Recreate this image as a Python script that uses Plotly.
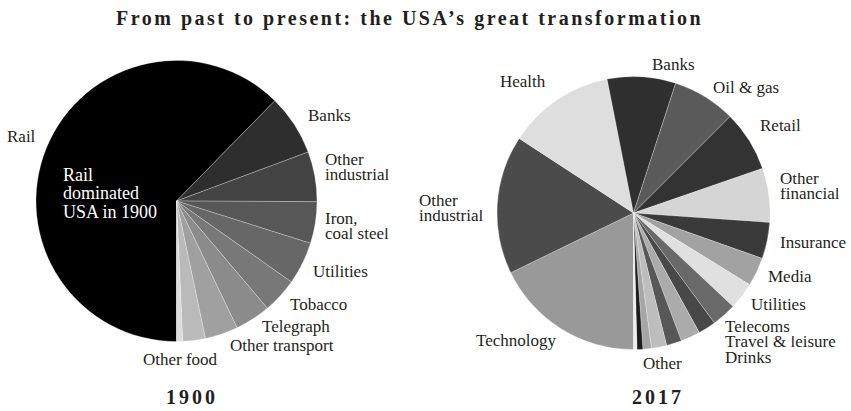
import plotly.graph_objects as go

W, H = 851, 411
TEXT = "#231f20"
SERIF = "Liberation Serif, Times New Roman, serif"

# ---- 1900: share of US stock-market value by sector (%), clockwise from 6 o'clock
sectors_1900 = ["Rail", "Banks", "Other industrial", "Iron, coal steel", "Utilities",
                "Tobacco", "Telegraph", "Other transport", "Other food", "Other"]
shares_1900 = [62.4, 7.0, 5.75, 4.8, 4.9, 4.05, 4.1, 3.8, 2.6, 0.7]
greys_1900 = ["#000000", "#2e2e2e", "#434343", "#575757", "#676767",
              "#787878", "#8b8b8b", "#a0a0a0", "#bababa", "#dcdcdc"]

# ---- 2017
sectors_2017 = ["Technology", "Other industrial", "Health", "Banks", "Oil & gas", "Retail",
                "Other financial", "Insurance", "Media", "Utilities", "Telecoms",
                "Travel & leisure", "Drinks", "Other 1", "Other 2", "Other 3",
                "Other 4", "Other 5"]
shares_2017 = [17.8, 16.4, 12.7, 8.1, 7.5, 7.2, 6.4, 4.3, 3.4, 3.2, 2.9,
               2.1, 2.3, 1.8, 1.8, 1.0, 0.7, 0.4]
greys_2017 = ["#999999", "#4b4b4b", "#dedede", "#2f2f2f", "#5a5a5a", "#333333",
              "#d5d5d5", "#3a3a3a", "#a2a2a2", "#e0e0e0", "#696969",
              "#484848", "#ababab", "#575757", "#bdbdbd", "#a6a6a6",
              "#1c1c1c", "#eeeeee"]

# label lines for each pie (one entry per drawn line of text)
labels_1900 = ["Rail", "Banks", "Other", "industrial", "Iron,", "coal steel", "Utilities",
               "Tobacco", "Telegraph", "Other transport", "Other food"]
labels_2017 = ["Health", "Banks", "Oil & gas", "Retail", "Other", "financial", "Insurance",
               "Media", "Utilities", "Telecoms", "Travel & leisure", "Drinks", "Other",
               "Technology", "Other", "industrial"]
note_1900 = ["Rail", "dominated", "USA in 1900"]
title = "From past to present: the USA\u2019s great transformation"
years = ["1900", "2017"]

# label placement: (left x, baseline y, line box height or None) in pixels
pos_1900 = [(7, 142.7, None), (308, 121, None), (325, 165.7, 15), (325, 180.7, 15),
            (325, 224.3, 15), (325, 239.3, 15), (313, 277.3, None), (290, 310, None),
            (262, 332.7, None), (230, 351.7, None), (143, 365, None)]
pos_2017 = [(500, 87.7, None), (651.7, 70, None), (713.3, 93.3, None), (760, 131.7, None),
            (780, 184, 15), (780, 199.3, 15), (780, 248.3, None), (768.3, 282.3, None),
            (750.7, 310, None), (725, 332.3, 15), (725, 347.3, 15), (725, 363.3, 15),
            (643.3, 369.3, None), (476, 346, None), (419, 206.7, 15), (419, 221.7, 15)]
pos_note = [(63, 180.7, 18), (63, 199.3, 18), (63, 217.7, 18)]


def domain(cx, cy, r):
    return dict(x=[(cx - r) / W, (cx + r) / W], y=[1 - (cy + r) / H, 1 - (cy - r) / H])


def text_ann(text, x, baseline, size=17, anchor="left", color=TEXT, spacing=None,
             bold=False, box=None):
    body = text
    if spacing is not None:
        body = f'<span style="letter-spacing:{spacing}px">{body}</span>'
    if bold:
        body = f"<b>{body}</b>"
    ann = dict(text=body, xref="paper", yref="paper", x=x / W,
               xanchor=anchor, yanchor="middle", showarrow=False,
               borderpad=0, borderwidth=0,
               font=dict(family=SERIF, size=size, color=color))
    if box is None:
        cy = baseline - 0.3375 * size
    else:
        # tight leading: shorter line box, text sitting on its bottom edge
        cy = baseline + 0.216 * size - box / 2
        ann.update(height=box, valign="bottom")
    ann["y"] = 1 - cy / H
    return ann


fig = go.Figure()
sep = dict(color="rgba(255,255,255,0.45)", width=0.6)
fig.add_trace(go.Pie(labels=sectors_1900, values=shares_1900, sort=False,
                     direction="clockwise", rotation=180, textinfo="none",
                     marker=dict(colors=greys_1900, line=sep),
                     domain=domain(176.5, 201, 140.5), showlegend=False))
fig.add_trace(go.Pie(labels=sectors_2017, values=shares_2017, sort=False,
                     direction="clockwise", rotation=180, textinfo="none",
                     marker=dict(colors=greys_2017, line=sep),
                     domain=domain(633.5, 213, 136.5), showlegend=False))

anns = []
for t, (x, b, h) in zip(labels_1900, pos_1900):
    anns.append(text_ann(t, x, b, box=h))
for t, (x, b, h) in zip(labels_2017, pos_2017):
    anns.append(text_ann(t, x, b, box=h))
for t, (x, b, h) in zip(note_1900, pos_note):
    anns.append(text_ann(t, x, b, size=18, color="#ffffff", box=h))
anns.append(text_ann(title, 409, 25, size=20, anchor="center", spacing=2.5, bold=True))
anns.append(text_ann(years[0], 191.5, 404, size=20, anchor="center", spacing=3, bold=True))
anns.append(text_ann(years[1], 657.5, 404, size=20, anchor="center", spacing=3, bold=True))

fig.update_layout(width=W, height=H, margin=dict(l=0, r=0, t=0, b=0),
                  paper_bgcolor="#ffffff", plot_bgcolor="#ffffff",
                  annotations=anns, font=dict(family=SERIF, color=TEXT))

fig.write_html("out.html", config={"displayModeBar": False})
